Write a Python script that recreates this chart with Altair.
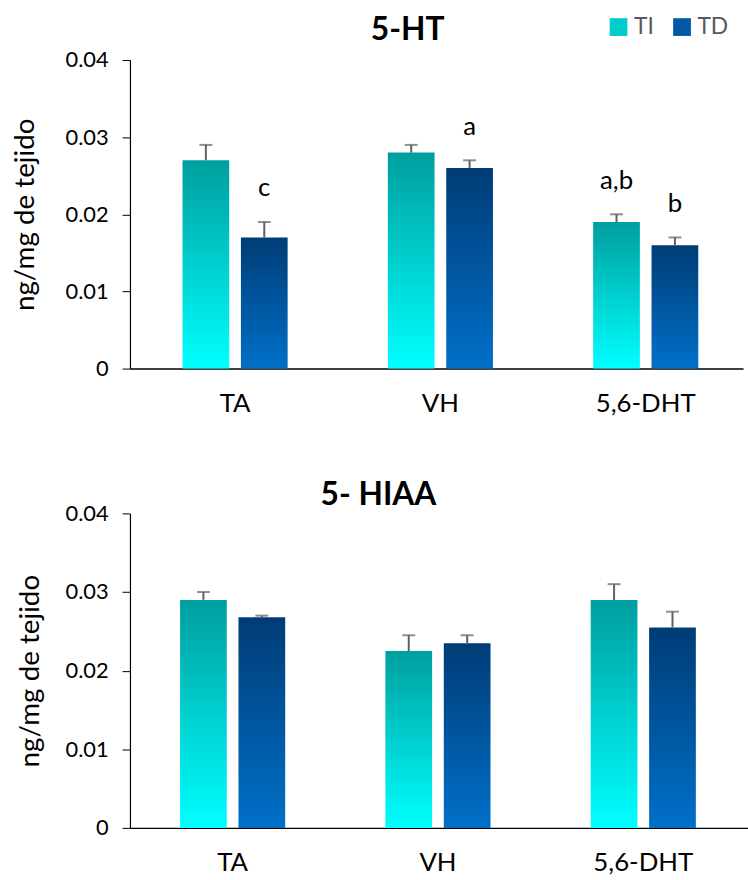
import altair as alt
import pandas as pd

FONT = "Lato"

categories = ["TA", "VH", "5,6-DHT"]
groups = ["TI", "TD"]

# 5-HT
ht_ti = [0.027, 0.028, 0.019]
ht_ti_err = [0.002, 0.001, 0.001]
ht_td = [0.017, 0.026, 0.016]
ht_td_err = [0.002, 0.001, 0.001]
ht_ti_lab = ["", "", "a,b"]
ht_td_lab = ["c", "a", "b"]

# 5-HIAA
hiaa_ti = [0.029, 0.0225, 0.029]
hiaa_ti_err = [0.001, 0.002, 0.002]
hiaa_td = [0.0268, 0.0235, 0.0255]
hiaa_td_err = [0.0002, 0.001, 0.002]
hiaa_ti_lab = ["", "", ""]
hiaa_td_lab = ["", "", ""]

y_ticks = [0, 0.01, 0.02, 0.03, 0.04]


def make_df(ti, ti_err, td, td_err, ti_lab, td_lab):
    rows = []
    for i, c in enumerate(categories):
        rows.append(dict(cat=c, grp="TI", val=ti[i], err=ti_err[i], lab=ti_lab[i]))
        rows.append(dict(cat=c, grp="TD", val=td[i], err=td_err[i], lab=td_lab[i]))
    df = pd.DataFrame(rows)
    df["top"] = df["val"] + df["err"]
    return df


def grad(c_top, c_bot):
    return alt.LinearGradient(
        gradient="linear",
        stops=[alt.GradientStop(color=c_top, offset=0), alt.GradientStop(color=c_bot, offset=1)],
        x1=0, x2=0, y1=0, y2=1,
    )


ti_grad = grad("#009E9E", "#00FFFF")
td_grad = grad("#003C76", "#0070C8")


def panel(df, title, width, height, po, align, title_dx, title_offset, title_pad, show_legend):
    x = alt.X(
        "cat:N", sort=categories,
        scale=alt.Scale(paddingInner=0.488, paddingOuter=po, align=align),
        axis=alt.Axis(title=None, ticks=False, labelAngle=0, labelFontSize=26, labelFont=FONT,
                      labelColor="black", labelPadding=22, domainColor="black", domainWidth=1.5),
    )
    xo = alt.XOffset("grp:N", sort=groups,
                     scale=alt.Scale(domain=groups, paddingInner=0.2, paddingOuter=0))
    y_axis = alt.Axis(
        values=y_ticks, grid=False, title="ng/mg de tejido", titleFontSize=28, titleFont=FONT,
        titleFontWeight="normal", titleColor="black", titlePadding=title_pad,
        labelExpr="datum.value == 0 ? '0' : format(datum.value, '.2f')",
        labelFontSize=22, labelFont=FONT, labelColor="black", labelPadding=14,
        tickSize=8, tickColor="black", domainColor="black", domainWidth=1.2,
    )
    yscale = alt.Scale(domain=[0, 0.04], nice=False)
    base = alt.Chart(df).encode(x=x, xOffset=xo)

    bars_ti = base.transform_filter(alt.datum.grp == "TI").mark_bar(color=ti_grad).encode(
        y=alt.Y("val:Q", scale=yscale, axis=y_axis))
    bars_td = base.transform_filter(alt.datum.grp == "TD").mark_bar(color=td_grad).encode(
        y=alt.Y("val:Q", scale=yscale, axis=y_axis))
    err = base.mark_rule(color="#606060", strokeWidth=2).encode(
        y=alt.Y("val:Q", scale=yscale), y2="top:Q")
    cap = base.mark_tick(color="#606060", thickness=2, size=13, orient="horizontal").encode(
        y=alt.Y("top:Q", scale=yscale))
    letters = base.transform_filter(alt.datum.lab != "").mark_text(
        fontSize=26, font=FONT, color="black", dy=-34, baseline="middle").encode(
        y=alt.Y("top:Q", scale=yscale), text="lab:N")

    layers = [bars_ti, bars_td, err, cap, letters]
    if show_legend:
        leg = base.mark_square(opacity=0).encode(
            y=alt.Y("val:Q", scale=yscale),
            color=alt.Color("grp:N", sort=groups,
                            scale=alt.Scale(domain=groups, range=["#00CCCC", "#0058A6"]),
                            legend=alt.Legend(title=None, orient="none", legendX=481, legendY=-45,
                                              direction="horizontal", symbolType="square",
                                              symbolSize=320, symbolOpacity=1, symbolStrokeWidth=0,
                                              labelFontSize=23, labelFont=FONT, labelColor="#595959",
                                              columnPadding=16, labelOffset=4)),
        )
        layers.append(leg)

    return alt.layer(*layers).properties(
        width=width, height=height,
        title=alt.TitleParams(title, fontSize=32, font=FONT, fontWeight="bold", color="black",
                              anchor="middle", dx=title_dx, offset=title_offset),
    )


df_ht = make_df(ht_ti, ht_ti_err, ht_td, ht_td_err, ht_ti_lab, ht_td_lab)
df_hiaa = make_df(hiaa_ti, hiaa_ti_err, hiaa_td, hiaa_td_err, hiaa_ti_lab, hiaa_td_lab)

top = panel(df_ht, "5-HT", 618, 311, 0.237, 0.54, -29, 2, 26, True)
bottom = panel(df_hiaa, "5- HIAA", 623, 317, 0.249, 0.49, -61, -10, 21, False)

chart = alt.vconcat(top, bottom, spacing=64).properties(
    padding={"left": 11, "top": 11, "right": 0, "bottom": 0}
).configure_view(stroke=None)

chart.save("out.html", embed_options={"renderer": "svg", "actions": False})
